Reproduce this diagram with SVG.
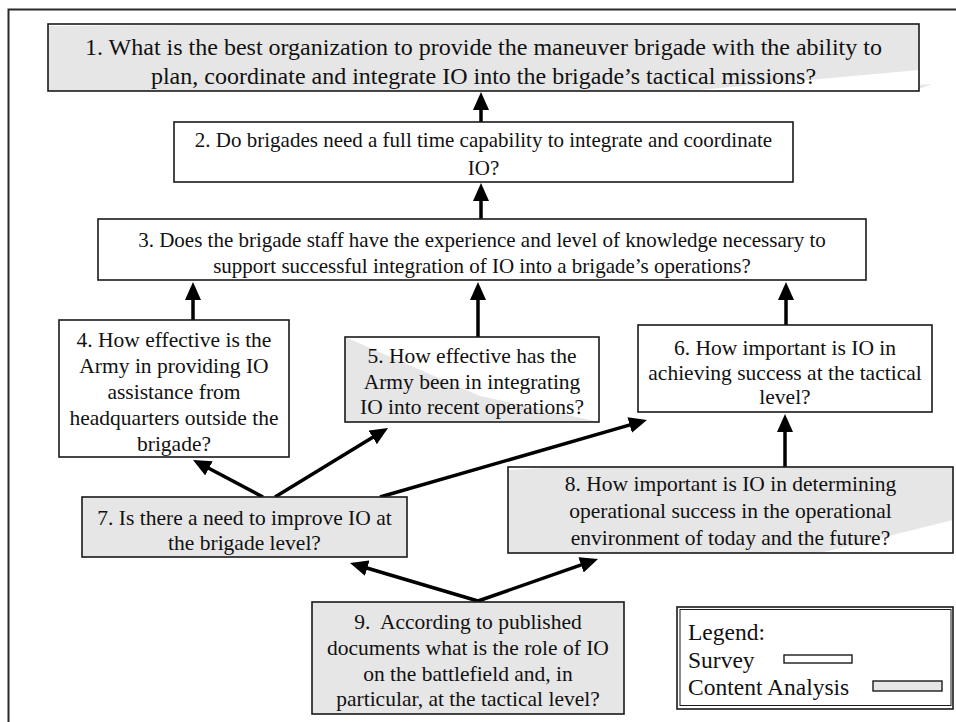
<svg xmlns="http://www.w3.org/2000/svg" width="956" height="722" viewBox="0 0 956 722">
<defs>
<marker id="ah" viewBox="0 0 18 16" refX="4" refY="8" markerWidth="18" markerHeight="16" markerUnits="userSpaceOnUse" orient="auto">
<path d="M0,0 L18,8 L0,16 z" fill="#000"/>
</marker>
</defs>
<style>
.box{fill:none;stroke:#1a1a1a;stroke-width:1.6}
.wh{fill:#fff}
.gr{fill:#e6e6e6}
.t{font-family:"Liberation Serif","Times New Roman",serif;font-size:21.5px;fill:#111;text-anchor:middle}
.t1{font-size:24px}
.t2{font-size:21px}
.lg{font-family:"Liberation Serif","Times New Roman",serif;font-size:23.5px;fill:#111}
.c{stroke:#000;stroke-width:3.5;fill:none;marker-end:url(#ah)}
</style>
<rect width="956" height="722" fill="#fff"/>
<path d="M8.5,722 V9.5 H956" fill="none" stroke="#2a2a2a" stroke-width="2"/>

<g id="connectors">
<line class="c" x1="481" y1="122" x2="481" y2="106"/>
<line class="c" x1="481" y1="219" x2="481" y2="197"/>
<line class="c" x1="193" y1="320" x2="193" y2="296"/>
<line class="c" x1="478" y1="337" x2="478" y2="296"/>
<line class="c" x1="786" y1="325" x2="786" y2="296"/>
<line class="c" x1="785" y1="467" x2="785" y2="428"/>
<line class="c" x1="263" y1="497" x2="205.4" y2="466.5"/>
<line class="c" x1="275" y1="497" x2="376.1" y2="435.3"/>
<line class="c" x1="380" y1="497" x2="633.5" y2="423.9"/>
<line class="c" x1="478" y1="601" x2="363.4" y2="567"/>
<line class="c" x1="478" y1="601" x2="584.8" y2="563.6"/>
</g>

<g id="n1">
<rect class="wh" x="48" y="24" width="871" height="67"/>
<polygon class="gr" points="48,26 330,24 919,24 919,70 688,91 48,91"/>
<polygon class="gr" points="919,85 932,84 919,89"/>
<rect class="box" x="48" y="24" width="871" height="67"/>
<text class="t t1" x="483.5" y="55">1. What is the best organization to provide the maneuver brigade with the ability to</text>
<text class="t t1" x="483.5" y="84">plan, coordinate and integrate IO into the brigade’s tactical missions?</text>
</g>

<g id="n2">
<rect class="wh box" x="174" y="122" width="619" height="60"/>
<text class="t t2" x="483.5" y="147">2. Do brigades need a full time capability to integrate and coordinate</text>
<text class="t t2" x="483.5" y="175">IO?</text>
</g>

<g id="n3">
<rect class="wh box" x="98" y="219" width="768" height="61"/>
<text class="t t2" x="482" y="247">3. Does the brigade staff have the experience and level of knowledge necessary to</text>
<text class="t t2" x="482" y="273">support successful integration of IO into a brigade’s operations?</text>
</g>

<g id="n4">
<rect class="wh box" x="59" y="320" width="230" height="137"/>
<text class="t" x="174" y="347">4. How effective is the</text>
<text class="t" x="174" y="373">Army in providing IO</text>
<text class="t" x="174" y="399">assistance from</text>
<text class="t" x="174" y="425">headquarters outside the</text>
<text class="t" x="174" y="451">brigade?</text>
</g>

<g id="n5">
<rect class="wh" x="345" y="337" width="254" height="85"/>
<polygon class="gr" points="345,337 480,396 599,422 345,422"/>
<rect class="box" x="345" y="337" width="254" height="85"/>
<text class="t" x="472" y="363">5. How effective has the</text>
<text class="t" x="472" y="389">Army been in integrating</text>
<text class="t" x="472" y="414">IO into recent operations?</text>
</g>

<g id="n6">
<rect class="wh box" x="638" y="325" width="294" height="87"/>
<text class="t" x="785" y="355">6. How important is IO in</text>
<text class="t" x="785" y="380">achieving success at the tactical</text>
<text class="t" x="785" y="404">level?</text>
</g>

<g id="n7">
<rect class="gr box" x="82" y="497" width="325" height="60"/>
<text class="t" x="244.5" y="525">7. Is there a need to improve IO at</text>
<text class="t" x="244.5" y="550">the brigade level?</text>
</g>

<g id="n8">
<rect class="wh" x="508" y="467" width="445" height="86"/>
<polygon class="gr" points="508,470 560,467 953,467 953,520 820,553 508,553"/>
<rect class="box" x="508" y="467" width="445" height="86"/>
<text class="t" x="730.5" y="491">8. How important is IO in determining</text>
<text class="t" x="730.5" y="518">operational success in the operational</text>
<text class="t" x="730.5" y="545">environment of today and the future?</text>
</g>

<g id="n9">
<rect class="gr box" x="312" y="602" width="312" height="112"/>
<text class="t" x="468" y="629" xml:space="preserve">9.  According to published</text>
<text class="t" x="468" y="655">documents what is the role of IO</text>
<text class="t" x="468" y="681">on the battlefield and, in</text>
<text class="t" x="468" y="706">particular, at the tactical level?</text>
</g>

<g id="legend">
<rect x="677" y="607" width="276" height="102" fill="#fff" stroke="#1a1a1a" stroke-width="1.6"/>
<rect x="680" y="609.5" width="271" height="96" fill="none" stroke="#1a1a1a" stroke-width="1"/>
<text class="lg" x="688" y="640">Legend:</text>
<text class="lg" x="688" y="668">Survey</text>
<text class="lg" x="688" y="695">Content Analysis</text>
<rect x="784" y="655" width="68" height="8" fill="#fff" stroke="#1a1a1a" stroke-width="1.4"/>
<rect x="873" y="681" width="69" height="10" fill="#e6e6e6" stroke="#1a1a1a" stroke-width="1.4"/>
</g>
</svg>
